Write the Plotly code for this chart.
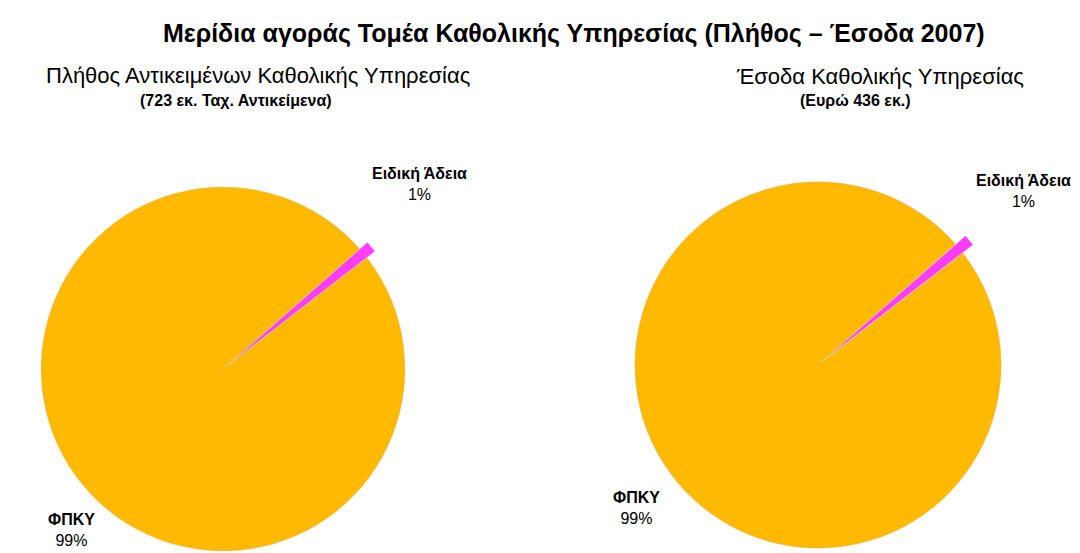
import plotly.graph_objects as go

# ---- data ----
main_title = "Μερίδια αγοράς Τομέα Καθολικής Υπηρεσίας (Πλήθος – Έσοδα 2007)"
chart_titles = ["Πλήθος Αντικειμένων Καθολικής Υπηρεσίας", "Έσοδα Καθολικής Υπηρεσίας"]
chart_subtitles = ["(723 εκ. Ταχ. Αντικείμενα)", "(Ευρώ 436 εκ.)"]
slice_labels = ["Ειδική Άδεια", "ΦΠΚΥ"]
volume_values = [1, 99]
revenue_values = [1, 99]

W, H = 1080, 553
FONT = "Liberation Sans, Arial, sans-serif"
colors = ["#FF3CFF", "#FFBA00"]


def px_x(x):
    return x / W


def px_y(y):
    return 1 - y / H


fig = go.Figure()

pies = [
    dict(values=volume_values, cx=215, ybox=0.6944, pull=0.055),
    dict(values=revenue_values, cx=810, ybox=0.7089, pull=0.07),
]
for p in pies:
    c = px_x(p["cx"])
    fig.add_trace(go.Pie(
        labels=slice_labels,
        values=p["values"],
        sort=False,
        direction="clockwise",
        rotation=48.7,
        pull=[p["pull"], 0],
        marker=dict(colors=colors, line=dict(color="rgba(180,180,180,0.6)", width=0.5)),
        textinfo="none",
        hoverinfo="label+percent",
        domain=dict(x=[c - 0.19, c + 0.19], y=[0, p["ybox"]]),
        showlegend=False,
    ))

annotations = []
annotations.append(dict(text="<b>" + main_title + "</b>", x=px_x(566), y=px_y(25), xref="paper", yref="paper",
                        xanchor="center", yanchor="middle", showarrow=False,
                        font=dict(family=FONT, size=25, color="#000000")))
# chart titles
title_pos = [(250, 67, 228, 92), (872, 69, 847, 93)]
for i, (x1, y1, x2, y2) in enumerate(title_pos):
    annotations.append(dict(text=chart_titles[i], x=px_x(x1), y=px_y(y1), xref="paper", yref="paper",
                            xanchor="center", yanchor="middle", showarrow=False,
                            font=dict(family=FONT, size=22, color="#000000")))
    annotations.append(dict(text="<b>" + chart_subtitles[i] + "</b>", x=px_x(x2), y=px_y(y2),
                            xref="paper", yref="paper", xanchor="center", yanchor="middle",
                            showarrow=False, font=dict(family=FONT, size=16, color="#000000")))

# slice labels
label_pos = [
    [(411, 176), (63, 522)],
    [(1015, 183), (628, 500)],
]
for i, p in enumerate(pies):
    total = sum(p["values"])
    for j, lab in enumerate(slice_labels):
        pct = round(p["values"][j] / total * 100)
        x, y = label_pos[i][j]
        annotations.append(dict(text=f"<b>{lab}</b><br>{pct}%", x=px_x(x), y=px_y(y),
                                xref="paper", yref="paper", xanchor="center", yanchor="middle",
                                showarrow=False, align="center",
                                font=dict(family=FONT, size=16, color="#000000")))

fig.update_layout(
    width=W, height=H,
    margin=dict(l=0, r=0, t=0, b=0),
    paper_bgcolor="#FFFFFF",
    plot_bgcolor="#FFFFFF",
    annotations=annotations,
)

fig.write_html("out.html")
